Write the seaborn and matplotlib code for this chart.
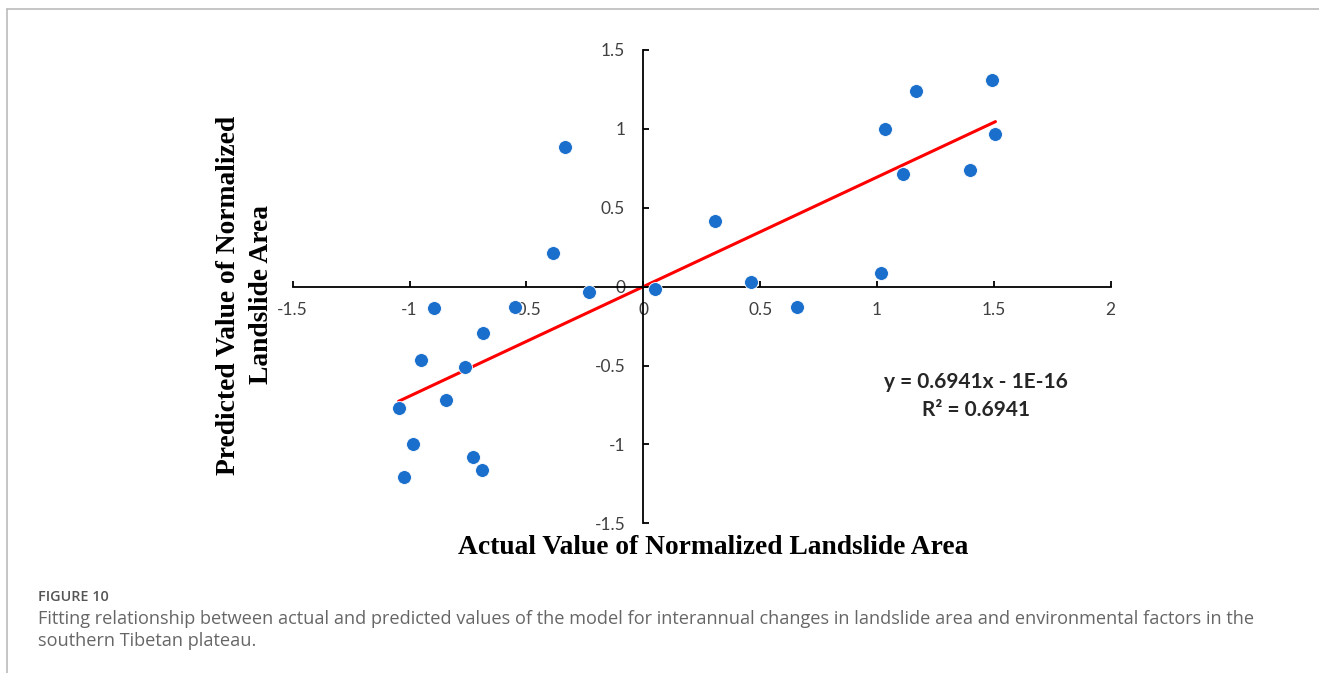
# landslide_fit_plot.py
# 實際值 vs 預測值 散佈圖 + 趨勢線

import numpy as np
import pandas as pd
import matplotlib
matplotlib.use("Agg")
import matplotlib.pyplot as plt
import seaborn as sns

# 資料
actual = [-0.334, -0.386, -0.234, -0.894, -0.549, 0.050, 0.306,
          1.493, 1.165, 1.036, 1.507, 1.110, 1.400, 1.019, 0.459, 0.656,
          -0.684, -0.951, -0.763, -0.844, -1.047, -0.987, -0.729, -0.688, -1.023]
predicted = [0.883, 0.212, -0.034, -0.137, -0.129, -0.017, 0.418,
             1.310, 1.238, 0.999, 0.968, 0.714, 0.741, 0.089, 0.032, -0.129,
             -0.295, -0.465, -0.511, -0.716, -0.769, -0.999, -1.077, -1.162, -1.208]
slope = 0.6941
intercept = -1e-16
r2 = 0.6941
x_ticks = [-1.5, -1, -0.5, 0, 0.5, 1, 1.5, 2]
y_ticks = [-1.5, -1, -0.5, 0, 0.5, 1, 1.5]

df = pd.DataFrame({"Actual": actual, "Predicted": predicted})
x_fit = np.array([df["Actual"].min(), df["Actual"].max()])
fit = pd.DataFrame({"Actual": x_fit, "Predicted": slope * x_fit + intercept})

sns.set_theme(style="white")
plt.rcParams["font.family"] = ["Lato", "DejaVu Sans"]

W, H = 1319, 673
fig = plt.figure(figsize=(W / 100, H / 100), dpi=100)
ax = fig.add_axes([292.7 / W, 1 - 523.3 / H, (1110.7 - 292.7) / W, (523.3 - 50) / H])

sns.scatterplot(data=df, x="Actual", y="Predicted", ax=ax, color="#1a6fcc",
                s=100, edgecolor="white", linewidth=0.6, zorder=3)
sns.lineplot(data=fit, x="Actual", y="Predicted", ax=ax, color="#ff0000",
             linewidth=2.2, zorder=2)

ax.set_xlim(-1.5, 2)
ax.set_ylim(-1.5, 1.5)
ax.set_xticks(x_ticks)
ax.set_yticks(y_ticks)
ax.set_xticklabels([f"{v:g}" for v in x_ticks])
ax.set_yticklabels([f"{v:g}" for v in y_ticks])
ax.set_xlabel("")
ax.set_ylabel("")

# 十字座標軸
for side in ["top", "right"]:
    ax.spines[side].set_visible(False)
ax.spines["left"].set_position(("data", 0))
ax.spines["bottom"].set_position(("data", 0))
for side in ["left", "bottom"]:
    ax.spines[side].set_color("black")
    ax.spines[side].set_linewidth(1.3)
ax.tick_params(axis="both", direction="in", length=4.5, width=1.3, color="black",
               bottom=True, left=True, labelsize=12.5, labelcolor="#404040")
ax.tick_params(axis="x", pad=11)
ax.tick_params(axis="y", pad=13)
ax.patch.set_alpha(0)

ax.text(976 / W, 1 - 381.7 / H, "y = 0.6941x - 1E-16", transform=fig.transFigure,
        ha="center", va="center", fontsize=15, fontweight="bold", color="#262626")
ax.text(976 / W, 1 - 410 / H, f"R² = {r2:.4f}", transform=fig.transFigure,
        ha="center", va="center", fontsize=15, fontweight="bold", color="#262626")

# 軸標題
fig.text(713 / W, 1 - 547 / H, "Actual Value of Normalized Landslide Area",
         ha="center", va="center", fontsize=19.8, fontweight="bold",
         family=["Liberation Serif"], color="black")
fig.text(245 / W, 1 - 295 / H, "Predicted Value of Normalized\nLandslide Area",
         ha="center", va="center", rotation=90, fontsize=19.8, fontweight="bold",
         family=["Liberation Serif"], color="black", linespacing=1.4)

# 圖說
fig.text(38 / W, 1 - 597 / H, "FIGURE 10", ha="left", va="center", fontsize=10.4,
         fontweight="semibold", family=["Open Sans"], color="#555555")
fig.text(38 / W, 1 - 619 / H,
         "Fitting relationship between actual and predicted values of the model for interannual changes in landslide area and environmental factors in the",
         ha="left", va="center", fontsize=13.05, family=["Open Sans"], color="#666666")
fig.text(38 / W, 1 - 641 / H, "southern Tibetan plateau.",
         ha="left", va="center", fontsize=13.05, family=["Open Sans"], color="#666666")

# 外框線
fig.add_artist(plt.Line2D([6.5 / W, 6.5 / W], [0, 1 - 9 / H], transform=fig.transFigure,
                          color="#bbbbbb", linewidth=1.2))
fig.add_artist(plt.Line2D([6.5 / W, 1], [1 - 9 / H, 1 - 9 / H], transform=fig.transFigure,
                          color="#bbbbbb", linewidth=1.2))

fig.savefig("out.png", dpi=100)
plt.close(fig)
